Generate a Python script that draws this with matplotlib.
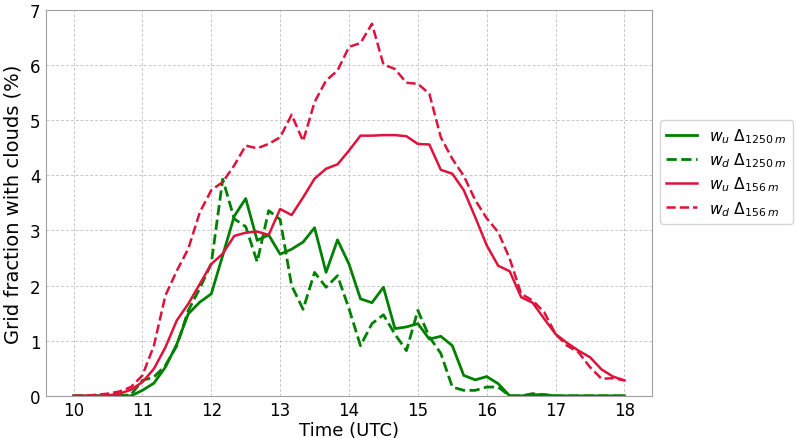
import matplotlib
matplotlib.use("Agg")
import matplotlib.pyplot as plt
import numpy as np

# time axis, 10 min output from 10 to 18 UTC
time = np.linspace(10, 18, 49)

# w_u, dx = 1250 m
wu_1250 = [0, 0, 0, 0, 0, 0, 0.1, 0.23, 0.52, 0.94, 1.49, 1.7, 1.85, 2.55,
           3.26, 3.58, 2.82, 2.92, 2.57, 2.66, 2.79, 3.05, 2.24, 2.83, 2.39,
           1.76, 1.69, 1.97, 1.22, 1.25, 1.31, 1.03, 1.08, 0.91, 0.37, 0.29,
           0.35, 0.22, 0, 0, 0.02, 0.02, 0, 0, 0, 0, 0, 0, 0]
# w_d, dx = 1250 m
wd_1250 = [0, 0, 0, 0, 0, 0.02, 0.28, 0.34, 0.55, 0.91, 1.55, 1.95, 2.4, 3.93,
           3.21, 3.07, 2.43, 3.36, 3.2, 2.0, 1.57, 2.24, 1.97, 2.18, 1.58,
           0.91, 1.31, 1.47, 1.12, 0.82, 1.55, 1.07, 0.77, 0.16, 0.1, 0.1,
           0.16, 0.16, 0, 0, 0.04, 0.02, 0, 0, 0, 0, 0, 0, 0]
# w_u, dx = 156 m
wu_156 = [0, 0, 0, 0.01, 0.04, 0.11, 0.25, 0.49, 0.88, 1.37, 1.67, 2.03, 2.39,
          2.58, 2.9, 2.96, 2.98, 2.92, 3.39, 3.28, 3.6, 3.94, 4.12, 4.2, 4.45,
          4.72, 4.72, 4.73, 4.73, 4.71, 4.57, 4.56, 4.1, 4.03, 3.73, 3.24,
          2.73, 2.36, 2.26, 1.79, 1.69, 1.4, 1.12, 0.96, 0.82, 0.7, 0.48,
          0.35, 0.28]
# w_d, dx = 156 m
wd_156 = [0, 0, 0.02, 0.04, 0.08, 0.16, 0.37, 0.91, 1.82, 2.27, 2.67, 3.33,
          3.73, 3.88, 4.18, 4.54, 4.49, 4.57, 4.69, 5.1, 4.62, 5.33, 5.72,
          5.9, 6.33, 6.4, 6.75, 6.01, 5.93, 5.68, 5.66, 5.48, 4.69, 4.3, 3.99,
          3.55, 3.22, 2.97, 2.49, 1.85, 1.73, 1.52, 1.12, 0.91, 0.79, 0.52,
          0.31, 0.32, 0.28]

fig = plt.figure(figsize=(7.96, 4.39), dpi=100)
ax = fig.add_axes([0.0578, 0.096, 0.7613, 0.879])

ax.plot(time, wu_1250, color="green", lw=2, label=r"$w_u$ $\Delta_{1250\,m}$")
ax.plot(time, wd_1250, color="green", lw=2, ls="--", label=r"$w_d$ $\Delta_{1250\,m}$")
ax.plot(time, wu_156, color="crimson", lw=1.8, label=r"$w_u$ $\Delta_{156\,m}$")
ax.plot(time, wd_156, color="crimson", lw=1.8, ls="--", label=r"$w_d$ $\Delta_{156\,m}$")

ax.set_xlim(9.6, 18.4)
ax.set_ylim(0, 7)
ax.set_xticks(range(10, 19))
ax.set_xlabel("Time (UTC)", fontsize=13, labelpad=1)
ax.set_ylabel("Grid fraction with clouds (%)", fontsize=14, labelpad=5)
ax.tick_params(labelsize=12, length=0, pad=4)
ax.grid(True, ls=(0, (3, 2)), color="#c8c8c8", lw=0.7)
for s in ax.spines.values():
    s.set_color("#a0a0a0")

ax.legend(loc="center left", bbox_to_anchor=(1.005, 0.58), fontsize=11.2,
          handlelength=2.0, labelspacing=0.35, borderaxespad=0.3)

fig.savefig("out.png", dpi=100)
